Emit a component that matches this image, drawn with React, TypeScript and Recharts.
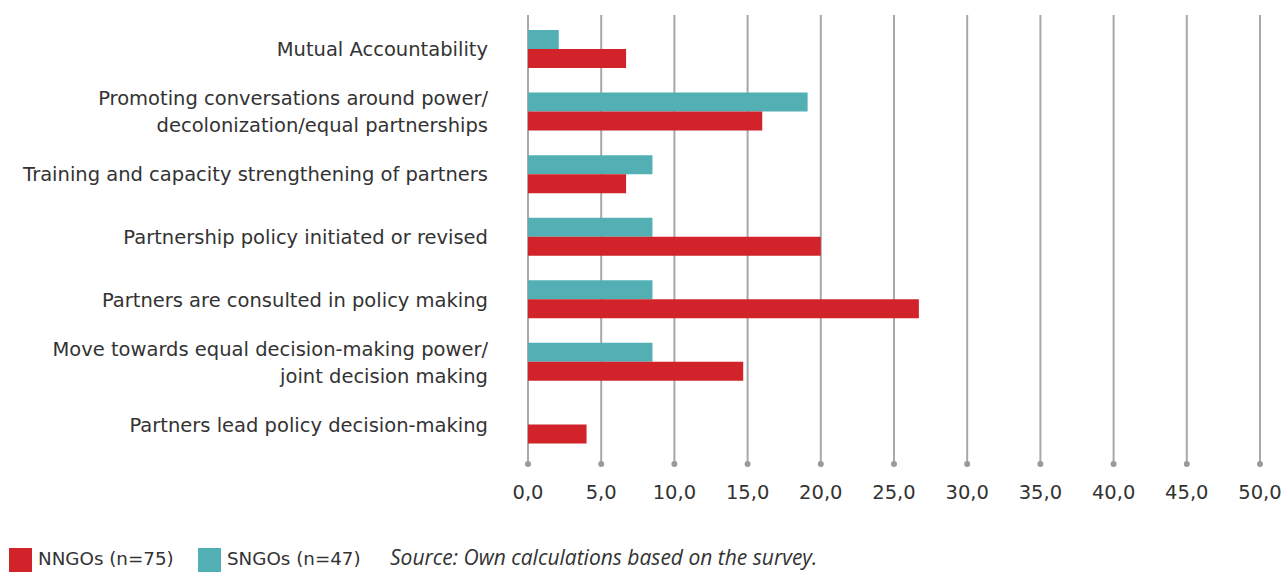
import { BarChart, Bar, XAxis, YAxis, CartesianGrid } from 'recharts';

const categories = [
  'Mutual Accountability',
  'Promoting conversations around power/\ndecolonization/equal partnerships',
  'Training and capacity strengthening of partners',
  'Partnership policy initiated or revised',
  'Partners are consulted in policy making',
  'Move towards equal decision-making power/\njoint decision making',
  'Partners lead policy decision-making',
];
const sngoValues = [2.1, 19.1, 8.5, 8.5, 8.5, 8.5, 0];
const nngoValues = [6.7, 16.0, 6.7, 20.0, 26.7, 14.7, 4.0];
const xTicks = [0, 5, 10, 15, 20, 25, 30, 35, 40, 45, 50];

const RED = '#d2232a';
const TEAL = '#52b0b5';
const TEXT = '#333333';
const FONT = '"DejaVu Sans", "Open Sans", sans-serif';
const SOURCE_FONT = '"Open Sans", sans-serif';

const data = categories.map((name, i) => ({
  name,
  sngo: sngoValues[i],
  nngo: nngoValues[i],
}));

const CategoryTick = (props: any) => {
  const { x, y, payload } = props;
  const lines = String(payload.value).split('\n');
  const lineH = 27;
  const start = -((lines.length - 1) * lineH) / 2;
  return (
    <text x={x} y={y} textAnchor="end" fill={TEXT} fontSize={19.5} fontFamily={FONT}>
      {lines.map((l, i) => (
        <tspan key={i} x={x} dy={i === 0 ? start + 7 : lineH}>
          {l}
        </tspan>
      ))}
    </text>
  );
};

const ValueTick = (props: any) => {
  const { x, y, payload } = props;
  return (
    <g>
      <circle cx={x} cy={y} r={3} fill="#9a9a9a" />
      <text x={x} y={y + 35} textAnchor="middle" fill={TEXT} fontSize={19.5} fontFamily={FONT}>
        {Number(payload.value).toFixed(1).replace('.', ',')}
      </text>
    </g>
  );
};

const LegendItem = ({ color, label, left }: { color: string; label: string; left: number }) => (
  <div style={{ position: 'absolute', left, top: 548, display: 'flex', alignItems: 'flex-start' }}>
    <div style={{ width: 23, height: 24, background: color }} />
    <span
      style={{ marginLeft: 6, fontSize: 18.3, color: TEXT, lineHeight: '22px', fontFamily: FONT }}
    >
      {label}
    </span>
  </div>
);

export default function App() {
  return (
    <div
      style={{
        position: 'absolute',
        left: 0,
        top: 0,
        width: 1282,
        height: 572,
        background: '#fff',
        overflow: 'hidden',
        fontFamily: FONT,
      }}
    >
      <BarChart
        width={1282}
        height={520}
        data={data}
        layout="vertical"
        margin={{ top: 15, right: 22, left: 0, bottom: 0 }}
        barGap={0}
      >
        <CartesianGrid horizontal={false} stroke="#a8a8a8" strokeWidth={2} />
        <XAxis
          type="number"
          domain={[0, 50]}
          ticks={xTicks}
          interval={0}
          axisLine={false}
          tickLine={false}
          tickSize={0}
          tickMargin={0}
          height={56}
          tick={<ValueTick />}
        />
        <YAxis
          type="category"
          dataKey="name"
          width={528}
          axisLine={false}
          tickLine={false}
          tickSize={6}
          tickMargin={34}
          padding={{ top: 3, bottom: 8 }}
          interval={0}
          tick={<CategoryTick />}
        />
        <Bar dataKey="sngo" fill={TEAL} barSize={19} isAnimationActive={false} />
        <Bar dataKey="nngo" fill={RED} barSize={19} isAnimationActive={false} />
      </BarChart>
      <LegendItem color={RED} label="NNGOs (n=75)" left={9} />
      <LegendItem color={TEAL} label="SNGOs (n=47)" left={198} />
      <div
        style={{
          position: 'absolute',
          left: 390,
          top: 546,
          fontSize: 21,
          fontStyle: 'italic',
          color: TEXT,
          lineHeight: '22px',
          fontFamily: SOURCE_FONT,
        }}
      >
        Source: Own calculations based on the survey.
      </div>
    </div>
  );
}
